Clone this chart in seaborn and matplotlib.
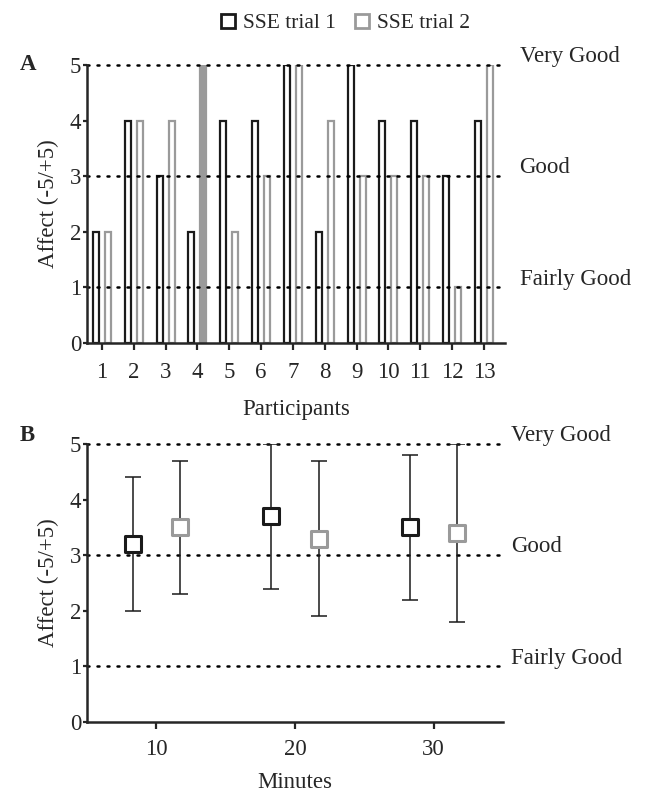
import numpy as np
import pandas as pd
import matplotlib
matplotlib.use('Agg')
import matplotlib.pyplot as plt
import seaborn as sns
from matplotlib.lines import Line2D
from matplotlib import transforms

# panel A: affect per participant
participants = [str(i) for i in range(1, 14)]
trial1 = [2, 4, 3, 2, 4, 4, 5, 2, 5, 4, 4, 3, 4]
trial2 = [2, 4, 4, 5, 2, 3, 5, 4, 3, 3, 3, 1, 5]

# panel B: mean affect over time
minutes = [10, 20, 30]
t1_mean = [3.2, 3.7, 3.5]
t1_sd = [1.2, 1.3, 1.3]
t2_mean = [3.5, 3.3, 3.4]
t2_sd = [1.2, 1.4, 1.6]

ref_levels = [5, 3, 1]
ref_labels = ['Very Good', 'Good', 'Fairly Good']

BLACK = '#1a1a1a'
GRAY = '#9a9a9a'
FS = 16.5

sns.set_style('ticks')
plt.rcParams['font.family'] = ['Liberation Serif', 'DejaVu Serif']
plt.rcParams['font.size'] = FS

fig = plt.figure(figsize=(6.52, 7.94), dpi=100)
axA = fig.add_axes([0.1334, 0.568, 0.641, 0.350])
axB = fig.add_axes([0.1334, 0.0907, 0.638, 0.350])

df = pd.DataFrame({
    'Participant': participants * 2,
    'Affect': trial1 + trial2,
    'Trial': ['SSE trial 1'] * 13 + ['SSE trial 2'] * 13,
})

sns.barplot(data=df, x='Participant', y='Affect', hue='Trial',
            palette=[BLACK, GRAY], width=0.76, gap=0.5,
            fill=False, linewidth=1.6, legend=False, ax=axA)
# participant 4, trial 2 drawn solid in the original
bar4 = axA.containers[1][3]
bar4.set_fill(True)
bar4.set_facecolor(GRAY)

axA.set_xlim(-0.47, 12.66)
axA.set_ylim(0, 5)
axA.set_yticks(range(6))
axA.set_xlabel('Participants', labelpad=11)
axA.set_ylabel('Affect (-5/+5)', labelpad=8)

# panel B
offset = 1.7
x1 = [m - offset for m in minutes]
x2 = [m + offset for m in minutes]
axB.errorbar(x1, t1_mean, yerr=t1_sd, fmt='none', ecolor=BLACK,
             elinewidth=1.1, capsize=6, capthick=1.1, zorder=2)
axB.errorbar(x2, t2_mean, yerr=t2_sd, fmt='none', ecolor=BLACK,
             elinewidth=1.1, capsize=6, capthick=1.1, zorder=2)
sns.scatterplot(x=x1, y=t1_mean, marker='s', s=130, color='white',
                edgecolor=BLACK, linewidth=2.2, zorder=3, ax=axB)
sns.scatterplot(x=x2, y=t2_mean, marker='s', s=130, color='white',
                edgecolor=GRAY, linewidth=2.2, zorder=3, ax=axB)
axB.set_xlim(5, 35)
axB.set_ylim(0, 5)
axB.set_yticks(range(6))
axB.set_xticks(minutes)
axB.set_xlabel('Minutes', labelpad=9)
axB.set_ylabel('Affect (-5/+5)', labelpad=8)

for ax, tx in [(axA, 1.035), (axB, 1.02)]:
    for lv, lab in zip(ref_levels, ref_labels):
        ax.axhline(lv, color='black', linewidth=1.8,
                   linestyle=(0, (0.8, 3.2)), dash_capstyle='round',
                   zorder=1, clip_on=False)
        trans = transforms.blended_transform_factory(ax.transAxes, ax.transData)
        ax.text(tx, lv + 0.15, lab, transform=trans, ha='left', va='center',
                fontsize=FS)
    sns.despine(ax=ax)
    ax.spines['left'].set_linewidth(1.8)
    ax.spines['bottom'].set_linewidth(1.8)
    ax.tick_params(axis='y', width=1.6, length=3, labelsize=FS, pad=1)
axA.tick_params(axis='x', width=1.6, length=5, labelsize=FS, pad=9)
axB.tick_params(axis='x', width=1.6, length=5, labelsize=FS, pad=7)

fig.text(0.03, 0.912, 'A', fontsize=FS, fontweight='bold')
fig.text(0.03, 0.444, 'B', fontsize=FS, fontweight='bold')

handles = [
    Line2D([], [], marker='s', linestyle='none', markersize=10,
           markerfacecolor='white', markeredgecolor=BLACK, markeredgewidth=2),
    Line2D([], [], marker='s', linestyle='none', markersize=10,
           markerfacecolor='white', markeredgecolor=GRAY, markeredgewidth=2),
]
fig.legend(handles, ['SSE trial 1', 'SSE trial 2'], loc='upper center',
           bbox_to_anchor=(0.525, 1.008), ncol=2, frameon=False,
           handletextpad=0.1, handlelength=1.2, columnspacing=0.6,
           fontsize=15.5)

fig.savefig('out.png', dpi=100)
